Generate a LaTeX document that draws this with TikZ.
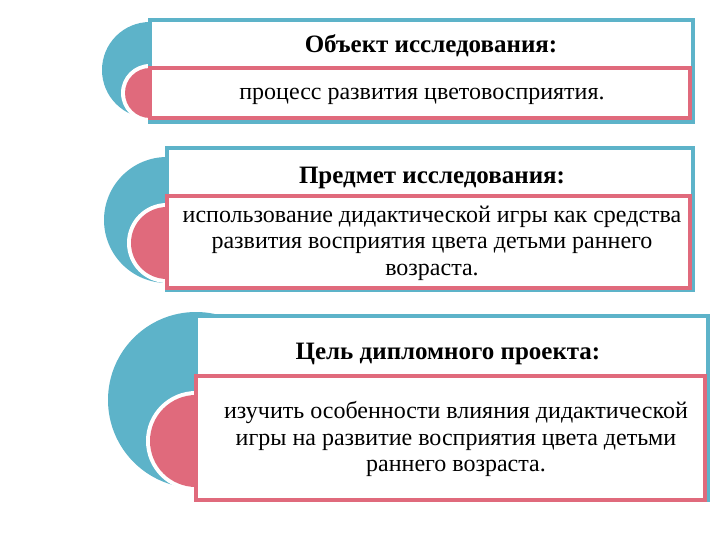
\documentclass[tikz,border=0pt]{standalone}
\usepackage{fontspec}
\setmainfont{Liberation Serif}
\definecolor{bl}{HTML}{5DB3C9}
\definecolor{pk}{HTML}{E06A7C}
\begin{document}
\begin{tikzpicture}[x=1pt,y=-1pt,
  bbox/.style={draw=bl,line width=4pt,fill=white},
  pbox/.style={draw=pk,line width=3.5pt,fill=white},
  txt/.style={font=\fontsize{24}{26.5}\selectfont,align=center},
  ttl/.style={font=\bfseries\fontsize{25}{27}\selectfont}]
\useasboundingbox (0,0) rectangle (720,540);
% block 1
\fill[bl] (150,70) circle (48);
\fill[white] (150,93) circle (29);
\fill[pk] (150,93) circle (25);
\draw[bbox] (150,20) rectangle (693,122);
\draw[pbox] (150,68) rectangle (690,118);
\node[ttl] (t1) at (431,46) {Объект исследования:};
\node[txt] (b1) at (422,96) {процесс развития цветовосприятия.};
% block 2
\fill[bl] (167,220) circle (63);
\fill[white] (167,243) circle (40);
\fill[pk] (167,243) circle (36);
\draw[bbox] (167,148) rectangle (693,290);
\draw[pbox] (167,196) rectangle (690,288);
\node[ttl] (t2) at (432,178) {Предмет исследования:};
\node[txt] (b2) at (432,243) {использование дидактической игры как средства\\развития восприятия цвета детьми раннего\\возраста.};
% block 3
\fill[bl] (196,400) circle (88);
\fill[white] (196,441) circle (50);
\fill[pk] (196,441) circle (46);
\draw[bbox] (196,316) rectangle (708,500);
\draw[pbox] (196,376) rectangle (705,500);
\node[ttl] (t3) at (448,354) {Цель дипломного проекта:};
\node[txt] (b3) at (456,439) {изучить особенности влияния дидактической\\игры на развитие восприятия цвета детьми\\раннего возраста.};
\end{tikzpicture}
\end{document}
